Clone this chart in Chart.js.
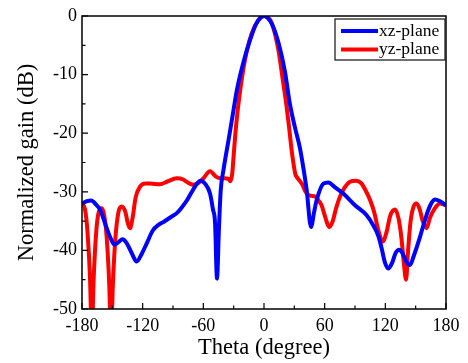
<!DOCTYPE html>
<html>
<head>
<meta charset="utf-8">
<script src="https://cdn.jsdelivr.net/npm/chart.js@4"></script>
<style>
  body { margin: 0; background: #fff; }
  canvas { display: block; }
</style>
</head>
<body>
<canvas id="gainChart" width="468" height="363"></canvas>
<script>
// xz-plane (blue)
const thetaXZ = [-180, -175, -171, -166, -162, -157, -152, -148, -144, -140, -136, -131, -126, -121, -116, -110, -104, -99, -92, -86, -81, -76, -71, -67, -63, -58.4, -53.4, -50.5, -48.4, -46.5, -44.5, -42.8, -40.1, -35.1, -30.1, -26.8, -21, -14.2, -7.6, 0, 7.6, 14.2, 20.7, 25.6, 30.6, 35.5, 39, 42.2, 46.5, 49.5, 52.1, 58.7, 63.6, 70, 78.4, 90, 101.5, 108, 113, 116.3, 119.5, 122.9, 127, 130, 133.8, 137, 141, 144.4, 148, 154.3, 158, 162.5, 166, 169.1, 174, 180];
const gainXZ = [-32.0, -31.6, -31.5, -32.2, -33.1, -35.5, -37.8, -39.0, -38.6, -38.1, -38.7, -40.4, -41.9, -40.6, -38.8, -36.6, -35.6, -35.1, -34.3, -33.6, -32.6, -31.4, -29.9, -28.8, -28.1, -28.6, -30.3, -33.0, -35.3, -44.8, -36.0, -29.7, -26.3, -21.2, -16.0, -12.6, -8.3, -4.3, -1.3, 0, -1.3, -4.5, -9.5, -15.0, -19.0, -22.5, -26.0, -29.7, -36.0, -33.5, -31.4, -28.6, -28.4, -29.2, -30.3, -32.3, -34.0, -35.7, -37.5, -39.6, -42.0, -43.1, -42.0, -40.5, -39.9, -40.5, -42.0, -42.5, -41.0, -37.7, -35.5, -33.1, -31.8, -31.3, -31.6, -32.3];

// yz-plane (red)
const thetaYZ = [-180, -177, -174.5, -172, -170.4, -168.5, -166, -163.5, -160.5, -158, -155.5, -153, -151.3, -149.5, -147, -144, -140.7, -137, -134.5, -132.5, -130, -127, -122.6, -117, -112.8, -103, -95, -86.4, -80, -76.5, -70, -65, -60, -53.4, -47.6, -43, -39.4, -35, -33.4, -31.5, -30.1, -27.7, -24.4, -18.8, -12.2, -5.6, 0, 7.6, 14.2, 19.1, 22, 24.5, 27.4, 29, 31, 32.5, 37.3, 42.2, 47, 50.4, 54, 57, 60, 64.6, 68, 71, 75.2, 80, 85, 91, 96, 100, 104.9, 109, 113, 117.4, 121, 125, 129.6, 133, 136, 138.5, 140.5, 142.5, 145, 148, 151, 154, 157, 160.9, 164, 169.1, 174, 180];
const gainYZ = [-32.0, -33.0, -37.0, -45.0, -55.0, -45.0, -37.0, -33.5, -32.8, -34.0, -38.0, -46.0, -55.0, -46.0, -38.0, -33.5, -32.5, -33.5, -35.5, -36.2, -34.5, -31.0, -29.1, -28.6, -28.6, -28.7, -28.2, -27.7, -27.9, -28.3, -28.8, -28.5, -27.7, -26.5, -27.4, -27.7, -27.7, -27.8, -28.2, -27.0, -24.0, -18.9, -13.8, -7.5, -3.0, -0.7, 0, -1.2, -5.8, -11.5, -15.0, -18.5, -23.0, -25.0, -27.0, -27.5, -28.6, -30.3, -30.7, -30.8, -31.5, -32.3, -34.0, -36.0, -35.0, -33.0, -30.8, -29.2, -28.3, -28.1, -28.5, -29.6, -31.4, -33.5, -36.5, -38.5, -37.0, -34.0, -33.0, -34.5, -38.0, -42.5, -45.0, -40.0, -35.0, -32.5, -32.0, -33.0, -35.0, -36.2, -34.5, -32.8, -32.0, -32.3];

const xTicks = [-180, -120, -60, 0, 60, 120, 180];
const yTicks = [-50, -40, -30, -20, -10, 0];

const serif = "'Liberation Serif', 'Times New Roman', serif";

function toPoints(xs, ys) {
  return xs.map((x, i) => ({ x: x, y: ys[i] }));
}

// box, inward ticks and legend drawn by hand
const framePlugin = {
  id: "frame",
  afterDraw(chart) {
    const ctx = chart.ctx;
    const a = chart.chartArea;
    const xs = chart.scales.x;
    const ys = chart.scales.y;
    ctx.save();
    ctx.strokeStyle = "#000";
    ctx.lineWidth = 1.5;
    ctx.strokeRect(a.left, a.top, a.right - a.left, a.bottom - a.top);

    ctx.lineWidth = 1.2;
    ctx.beginPath();
    for (let v = -180; v <= 180; v += 30) {
      const px = xs.getPixelForValue(v);
      const len = v % 60 === 0 ? 6 : 3.5;
      ctx.moveTo(px, a.bottom);
      ctx.lineTo(px, a.bottom - len);
    }
    for (let v = -50; v <= 0; v += 5) {
      const py = ys.getPixelForValue(v);
      const len = v % 10 === 0 ? 6 : 3.5;
      ctx.moveTo(a.left, py);
      ctx.lineTo(a.left + len, py);
    }
    ctx.stroke();

    // legend
    const bx = a.right - 111, by = a.top + 3, bw = 110, bh = 41;
    ctx.fillStyle = "#fff";
    ctx.fillRect(bx, by, bw, bh);
    ctx.strokeStyle = "#222";
    ctx.lineWidth = 1.3;
    ctx.strokeRect(bx, by, bw, bh);
    ctx.font = "17.5px " + serif;
    ctx.textBaseline = "middle";
    chart.data.datasets.forEach((ds, i) => {
      const ry = by + 12 + i * 18.5;
      ctx.strokeStyle = ds.borderColor;
      ctx.lineWidth = 4;
      ctx.beginPath();
      ctx.moveTo(bx + 6, ry);
      ctx.lineTo(bx + 43, ry);
      ctx.stroke();
      ctx.fillStyle = "#000";
      ctx.fillText(ds.label, bx + 44, ry);
    });
    ctx.restore();
  }
};

new Chart(document.getElementById("gainChart"), {
  type: "line",
  data: {
    datasets: [
      {
        label: "xz-plane",
        data: toPoints(thetaXZ, gainXZ),
        borderColor: "#0000ff",
        borderWidth: 4,
        pointRadius: 0,
        cubicInterpolationMode: "monotone",
        fill: false
      },
      {
        label: "yz-plane",
        data: toPoints(thetaYZ, gainYZ),
        borderColor: "#ff0000",
        borderWidth: 4,
        pointRadius: 0,
        cubicInterpolationMode: "monotone",
        fill: false
      }
    ]
  },
  options: {
    responsive: false,
    animation: false,
    devicePixelRatio: 1,
    layout: { padding: { top: 16, right: 22, left: 0, bottom: 0 } },
    plugins: { legend: { display: false }, tooltip: { enabled: false } },
    scales: {
      x: {
        type: "linear",
        min: -180,
        max: 180,
        afterFit: s => { s.height = 54; },
        afterBuildTicks: s => { s.ticks = xTicks.map(v => ({ value: v })); },
        grid: { display: false, drawTicks: false },
        border: { display: false },
        ticks: { padding: 6, color: "#000", font: { family: serif, size: 18 }, maxRotation: 0 },
        title: {
          display: true,
          text: "Theta (degree)",
          color: "#000",
          font: { family: serif, size: 22.5 },
          padding: { top: 0, bottom: 1 }
        }
      },
      y: {
        min: -50,
        max: 0,
        afterFit: s => { s.width = 82; },
        afterBuildTicks: s => { s.ticks = yTicks.map(v => ({ value: v })); },
        grid: { display: false, drawTicks: false },
        border: { display: false },
        ticks: { padding: 5, color: "#000", font: { family: serif, size: 18 } },
        title: {
          display: true,
          text: "Normalized gain (dB)",
          color: "#000",
          font: { family: serif, size: 22.5 },
          padding: { top: 14, bottom: 0 }
        }
      }
    }
  },
  plugins: [framePlugin]
});
</script>
</body>
</html>
